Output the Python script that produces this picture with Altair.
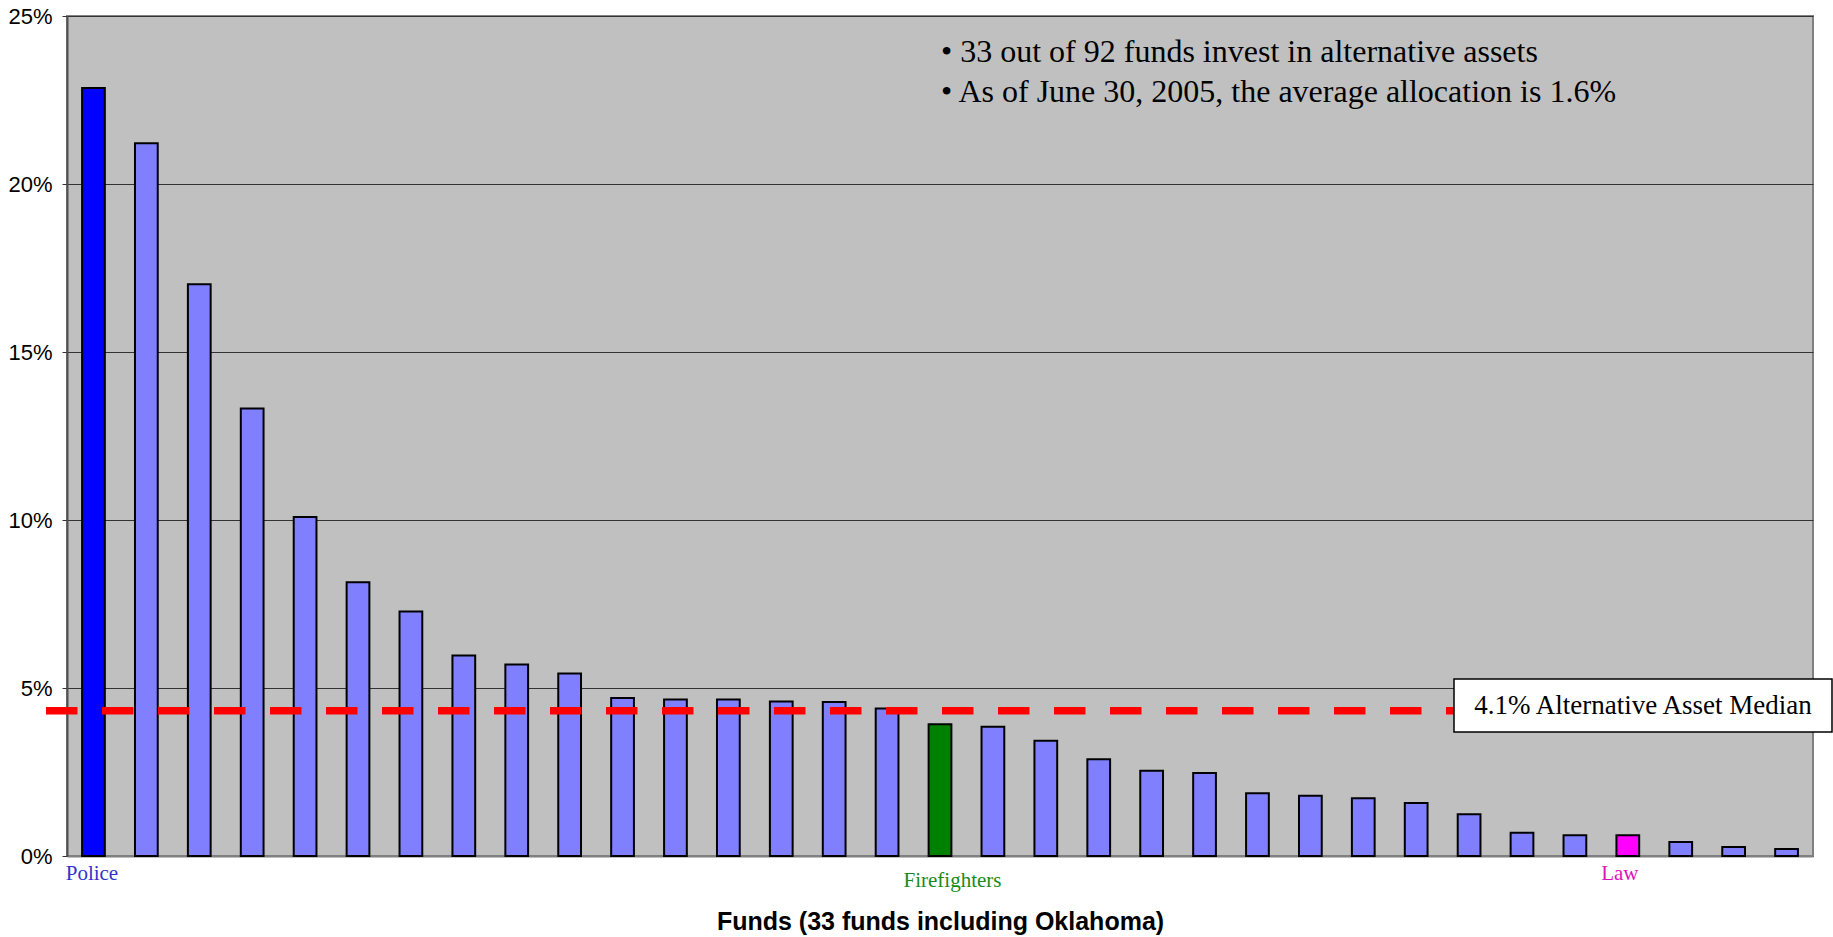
import altair as alt
import pandas as pd

# ---- data ----
funds = list(range(1, 34))
allocation = [22.86, 21.21, 17.02, 13.32, 10.09, 8.15, 7.28, 5.97, 5.70, 5.43,
              4.70, 4.66, 4.66, 4.60, 4.58, 4.39, 3.92, 3.85, 3.43, 2.88,
              2.54, 2.47, 1.87, 1.79, 1.72, 1.58, 1.24, 0.69, 0.62, 0.62,
              0.42, 0.27, 0.21]
highlight_funds = [1, 17, 30]
highlight_names = ["Police", "Firefighters", "Law"]
median_value = [4.32]
median_label = ["4.1% Alternative Asset Median"]
notes = ["• 33 out of 92 funds invest in alternative assets",
         "• As of June 30, 2005, the average allocation is 1.6%"]
y_ticks = [0, 5, 10, 15, 20, 25]
x_title = "Funds (33 funds including Oklahoma)"

# ---- styles ----
kind_domain = ["Police", "Firefighters", "Law", "Other"]
kind_range = ["#0000FF", "#008000", "#FF00FF", "#8080FF"]
label_colors = {"Police": "#3333CC", "Firefighters": "#1A8A1A", "Law": "#DD11BB"}
label_offsets = {"Police": (-1.5, 864), "Firefighters": (12.5, 871), "Law": (-8, 864)}

W, H = 1746, 840

name_of = dict(zip(highlight_funds, highlight_names))
bars_df = pd.DataFrame({
    "fund": funds,
    "value": allocation,
    "kind": [name_of.get(f, "Other") for f in funds],
})

x_enc = alt.X("fund:O",
              scale=alt.Scale(paddingInner=0.57, paddingOuter=0.285),
              axis=alt.Axis(labels=False, ticks=False, grid=False,
                            domainColor="#808080", domainWidth=2,
                            title=x_title, titleFont="Liberation Sans",
                            titleFontSize=25, titleFontWeight="bold",
                            titleColor="black", titleBaseline="alphabetic",
                            titlePadding=73))
y_enc = alt.Y("value:Q",
              scale=alt.Scale(domain=[0, 25], nice=False),
              axis=alt.Axis(values=y_ticks, labelExpr="datum.value + '%'",
                            title="", labelFont="Liberation Sans",
                            labelFontSize=22, labelColor="black",
                            labelPadding=10, tickSize=5, tickColor="#333333",
                            tickWidth=1, domainColor="#505050", domainWidth=2,
                            gridColor="#333333", gridWidth=1))

bars = alt.Chart(bars_df).mark_bar(stroke="black", strokeWidth=2).encode(
    x=x_enc,
    y=y_enc,
    color=alt.Color("kind:N", scale=alt.Scale(domain=kind_domain, range=kind_range),
                    legend=None),
)

median_df = pd.DataFrame({"median": median_value, "label": median_label})
median_line = alt.Chart(median_df).mark_rule(
    color="#FF0000", strokeWidth=7.5, strokeDash=[31.5, 24.5]
).encode(
    y=alt.Y("median:Q"),
    x=alt.value(-21),
    x2=alt.value(W),
)

box = alt.Chart(median_df).mark_rect(
    fill="white", stroke="black", strokeWidth=1.5
).encode(
    x=alt.value(1387), x2=alt.value(1765),
    y=alt.value(663), y2=alt.value(716),
)
box_text = alt.Chart(median_df).mark_text(
    font="Liberation Serif", fontSize=27, color="black",
    align="center", baseline="middle"
).encode(
    x=alt.value(1576), y=alt.value(690), text="label:N"
)

notes_df = pd.DataFrame({"note": ["\n".join(notes)]})
notes_text = alt.Chart(notes_df).mark_text(
    font="Liberation Serif", fontSize=32, color="black",
    align="left", baseline="middle", lineBreak="\n", lineHeight=40
).encode(
    x=alt.value(874), y=alt.value(36), text="note:N"
)

label_layers = []
for f, nm in zip(highlight_funds, highlight_names):
    dx, ypix = label_offsets[nm]
    ldf = pd.DataFrame({"fund": [f], "name": [nm]})
    label_layers.append(
        alt.Chart(ldf).mark_text(
            font="Liberation Serif", fontSize=21, color=label_colors[nm],
            align="center", baseline="alphabetic", dx=dx
        ).encode(
            x=alt.X("fund:O"), y=alt.value(ypix), text="name:N"
        )
    )

chart = alt.layer(bars, median_line, box, box_text, notes_text, *label_layers).properties(
    width=W, height=H,
    autosize=alt.AutoSizeParams(type="none"),
    padding={"left": 67, "top": 16, "right": 20, "bottom": 81},
    background="white",
).configure_view(
    fill="#C0C0C0", stroke="#808080", strokeWidth=2
)

chart.save("out.html", embed_options={"renderer": "svg", "actions": False})
